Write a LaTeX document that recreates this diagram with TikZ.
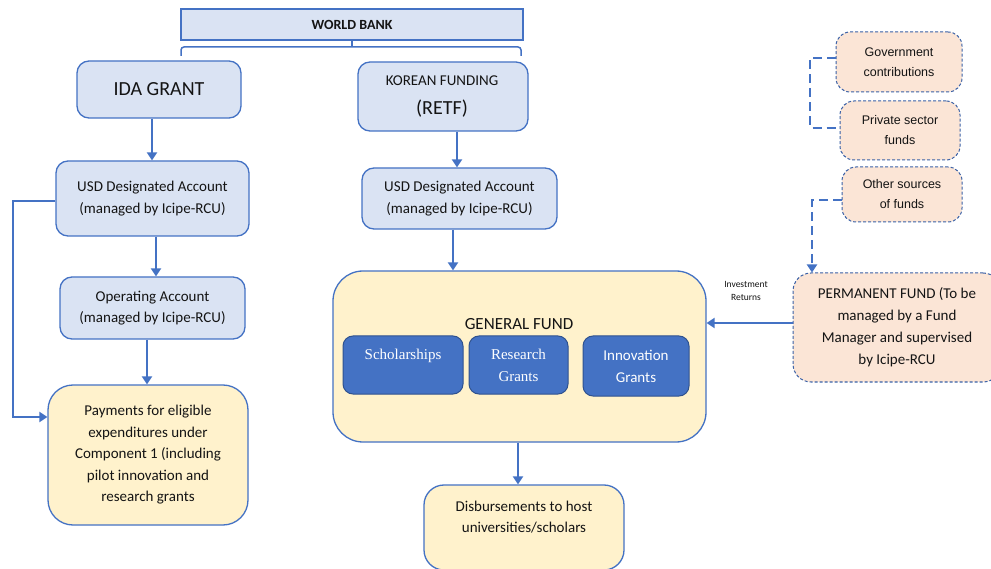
\documentclass[tikz,border=0pt]{standalone}
\usepackage{fontspec}
\setmainfont{Carlito}
\newfontfamily\arialf{Liberation Sans}
\newfontfamily\serf{Liberation Serif}
\usetikzlibrary{arrows.meta}
\definecolor{lblue}{HTML}{DAE3F3}
\definecolor{bord}{HTML}{4472C4}
\definecolor{lyel}{HTML}{FFF2CC}
\definecolor{peach}{HTML}{FBE5D6}
\definecolor{dblue}{HTML}{4472C4}
\definecolor{dbord}{HTML}{2F528F}
\definecolor{txt}{HTML}{141414}
\begin{document}
\begin{tikzpicture}[x=1pt,y=-1pt,
  box/.style={draw=bord, line width=1.3pt, rounded corners=12pt, inner sep=0pt, align=center, text=txt, font=\fontsize{15}{21.5}\selectfont},
  bluebox/.style={box, fill=lblue},
  yelbox/.style={box, fill=lyel},
  peachbox/.style={box, fill=peach, dash pattern=on 3pt off 2pt, line width=1pt, draw=bord!85!black},
  darkbox/.style={draw=dbord, fill=dblue, line width=1pt, rounded corners=10pt, inner sep=0pt, align=center, text=white},
  arr/.style={draw=bord, line width=2.2pt, -{Triangle[length=8pt,width=10pt]}},
  conn/.style={draw=bord, line width=1.5pt},
  dconn/.style={draw=bord, line width=2.2pt, dash pattern=on 9pt off 5pt},
  plain/.style={inner sep=0pt, align=center, text=txt},
]
\fill[white] (0,0) rectangle (991,569);
\useasboundingbox (0,0) rectangle (991,569);

% top
\node[bluebox, rounded corners=0pt, minimum width=342pt, minimum height=31pt, font=\bfseries\fontsize{14}{16}\selectfont] (wb) at (352,24.5) {WORLD BANK};
\coordinate (brl) at (181,56);
\coordinate (brr) at (521,56);
\coordinate (brm) at (352,47);
\draw[conn] (wb.south) -- (brm);
\draw[conn, rounded corners=3pt] (brl) -- (brl |- brm) -- (brr |- brm) -- (brr);

% left column
\node[bluebox, minimum width=164pt, minimum height=57pt, font=\fontsize{20}{24}\selectfont] (ida) at (159,89.5) {IDA GRANT};
\node[bluebox, minimum width=193pt, minimum height=75pt] (lusd) at (152.5,198.5) {USD Designated Account\\(managed by Icipe-RCU)};
\node[bluebox, minimum width=185pt, minimum height=62pt] (op) at (152.5,308) {Operating Account\\(managed by Icipe-RCU)};
\node[yelbox, rounded corners=25pt, minimum width=200pt, minimum height=140pt] (pay) at (148,455) {Payments for eligible\\expenditures under\\Component 1 (including\\pilot innovation and\\research grants};

% centre column
\node[bluebox, minimum width=170pt, minimum height=69pt] (kor) at (443,96.5) {};
\node[plain, font=\fontsize{15}{18}\selectfont] (kor1) at (442,81) {KOREAN FUNDING};
\node[plain, font=\fontsize{20}{24}\selectfont] (kor2) at (442,109) {(RETF)};
\node[bluebox, minimum width=195pt, minimum height=61pt] (rusd) at (459.5,198.5) {USD Designated Account\\(managed by Icipe-RCU)};
\node[yelbox, rounded corners=30pt, minimum width=373pt, minimum height=171pt] (gf) at (519.5,356.5) {};
\node[plain, font=\fontsize{17}{20}\selectfont] (gft) at (519,324) {GENERAL FUND};
\node[darkbox, minimum width=120pt, minimum height=58pt, font=\serf\fontsize{15}{22}\selectfont] (sch) at (403,365) {Scholarships\\\mbox{}};
\node[darkbox, minimum width=99pt, minimum height=58pt, font=\serf\fontsize{15}{22}\selectfont] (res) at (518.5,365) {Research\\Grants};
\node[darkbox, minimum width=106pt, minimum height=60pt, font=\fontsize{15}{22}\selectfont] (inn) at (636,366) {Innovation\\Grants};
\node[yelbox, rounded corners=20pt, minimum width=200pt, minimum height=85pt] (dis) at (524,527.5) {Disbursements to host\\universities/scholars\\\mbox{}};

% right column
\node[peachbox, rounded corners=14pt, minimum width=126pt, minimum height=60pt, font=\arialf\fontsize{12.5}{20}\selectfont] (gov) at (899,62) {Government\\contributions};
\node[peachbox, rounded corners=14pt, minimum width=120pt, minimum height=59pt, font=\arialf\fontsize{12.5}{20}\selectfont] (priv) at (900,130.5) {Private sector\\funds};
\node[peachbox, rounded corners=14pt, minimum width=120pt, minimum height=55pt, font=\arialf\fontsize{12.5}{20}\selectfont] (oth) at (902,194.5) {Other sources\\of funds};
\node[peachbox, rounded corners=18pt, minimum width=208pt, minimum height=109pt, font=\fontsize{15}{22}\selectfont] (perm) at (897,327.5) {PERMANENT FUND (To be\\managed by a Fund\\Manager and supervised\\by Icipe-RCU};
\node[plain, font=\fontsize{9.5}{13}\selectfont] (inv) at (746,291) {Investment\\Returns};

% connectors
\draw[arr] (ida.south -| 152,0) -- (lusd.north -| 152,0);
\draw[arr] (lusd.south -| 156,0) -- (op.north -| 156,0);
\draw[arr] (op.south -| 147,0) -- (pay.north -| 147,0);
\coordinate (byt) at (13,201);
\coordinate (byb) at (13,417);
\draw[arr] (lusd.west |- byt) -- (byt) -- (byb) -- (pay.west |- byb);
\draw[arr] (kor.south -| 457,0) -- (rusd.north -| 457,0);
\draw[arr] (rusd.south -| 453,0) -- (gf.north -| 453,0);
\draw[arr] (gf.south -| 518,0) -- (dis.north -| 518,0);
\draw[arr] (perm.west |- 0,323) -- (gf.east |- 0,323);
\coordinate (d1) at (810,58);
\coordinate (d2) at (810,128);
\coordinate (d3) at (812,200);
\draw[dconn] (gov.west |- d1) -- (d1) -- (d2) -- (priv.west |- d2);
\draw[dconn, -{Triangle[length=8pt,width=10pt]}] (oth.west |- d3) -- (d3) -- (perm.north -| d3);
\end{tikzpicture}
\end{document}
